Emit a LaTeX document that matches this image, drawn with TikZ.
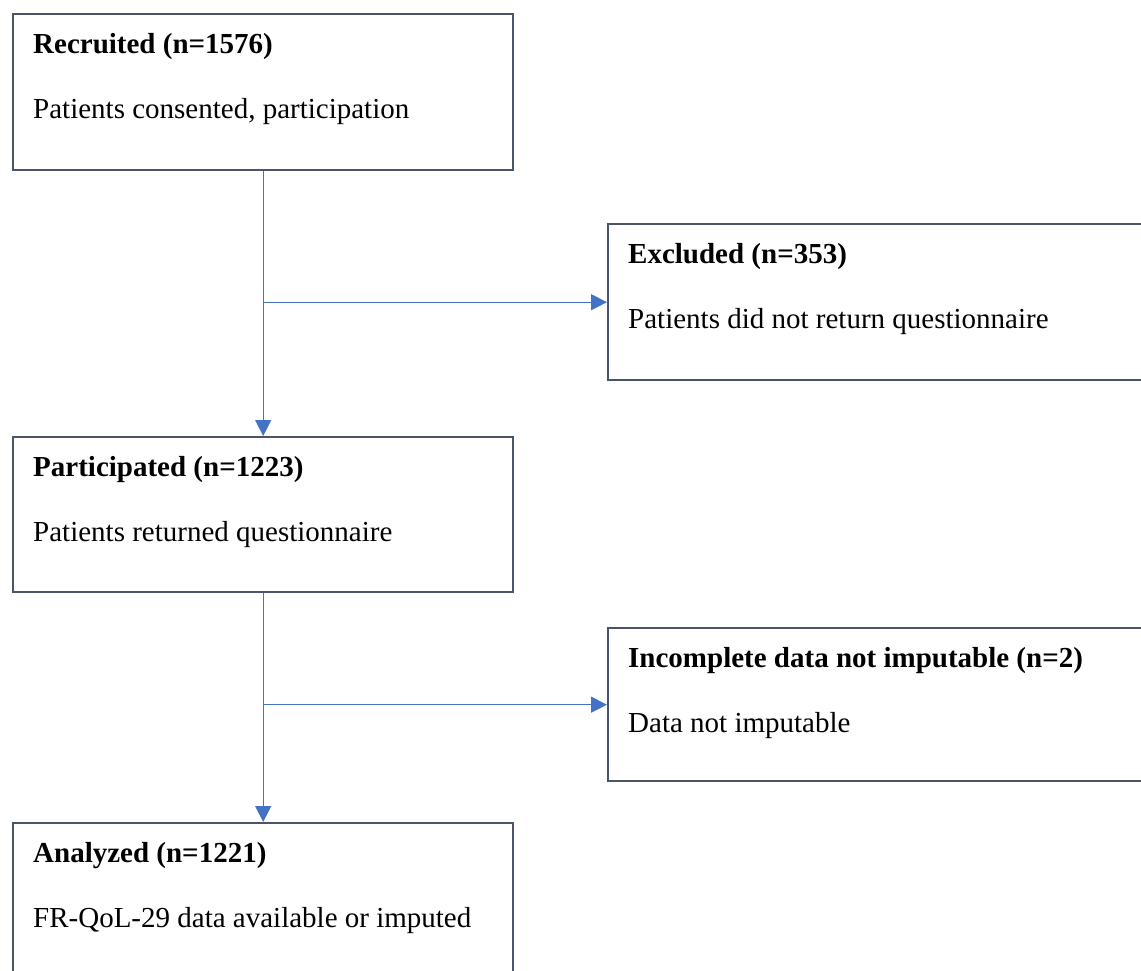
\documentclass[tikz,border=0pt]{standalone}
\usepackage{fontspec}
\setmainfont{Liberation Serif}
\usetikzlibrary{arrows.meta,calc}
\definecolor{boxline}{HTML}{4A5568}
\definecolor{arrowblue}{HTML}{4472C4}
\tikzset{
  box/.style={draw=boxline, line width=2.4pt, fill=white, anchor=north west, inner sep=0pt},
  ttl/.style={anchor=base west, inner sep=0pt, font=\fontsize{29}{33}\selectfont\bfseries},
  txt/.style={anchor=base west, inner sep=0pt, font=\fontsize{29}{33}\selectfont},
  flow/.style={draw=arrowblue, line width=1.3pt, -{Triangle[length=16pt,width=16pt]}}
}
\begin{document}
\begin{tikzpicture}[x=1pt,y=-1pt]
\useasboundingbox (0,0) rectangle (1141,970);
\clip (0,0) rectangle (1141,970);
% boxes
\node[box, minimum width=500pt, minimum height=156pt] (rec) at (12,13) {};
\node[box, minimum width=560pt, minimum height=156pt] (exc) at (607,223) {};
\node[box, minimum width=500pt, minimum height=155pt] (par) at (12,436) {};
\node[box, minimum width=560pt, minimum height=153pt] (inc) at (607,627) {};
\node[box, minimum width=500pt, minimum height=200pt] (ana) at (12,822) {};
% texts
\node[ttl] (recT) at ($(rec.north west)+(21,40)$) {Recruited (n=1576)};
\node[txt] (recS) at ($(rec.north west)+(21,105)$) {Patients consented, participation};
\node[ttl] (excT) at ($(exc.north west)+(21,40)$) {Excluded (n=353)};
\node[txt] (excS) at ($(exc.north west)+(21,105)$) {Patients did not return questionnaire};
\node[ttl] (parT) at ($(par.north west)+(21,40)$) {Participated (n=1223)};
\node[txt] (parS) at ($(par.north west)+(21,105)$) {Patients returned questionnaire};
\node[ttl] (incT) at ($(inc.north west)+(21,40)$) {Incomplete data not imputable (n=2)};
\node[txt] (incS) at ($(inc.north west)+(21,105)$) {Data not imputable};
\node[ttl] (anaT) at ($(ana.north west)+(21,40)$) {Analyzed (n=1221)};
\node[txt] (anaS) at ($(ana.north west)+(21,105)$) {FR-QoL-29 data available or imputed};
% connectors
\coordinate (b1) at (rec.south |- exc.west);
\coordinate (b2) at (par.south |- inc.west);
\draw[flow] (rec.south) -- (par.north);
\draw[flow] (b1) -- (exc.west);
\draw[flow] (par.south) -- (ana.north);
\draw[flow] (b2) -- (inc.west);
\end{tikzpicture}
\end{document}
